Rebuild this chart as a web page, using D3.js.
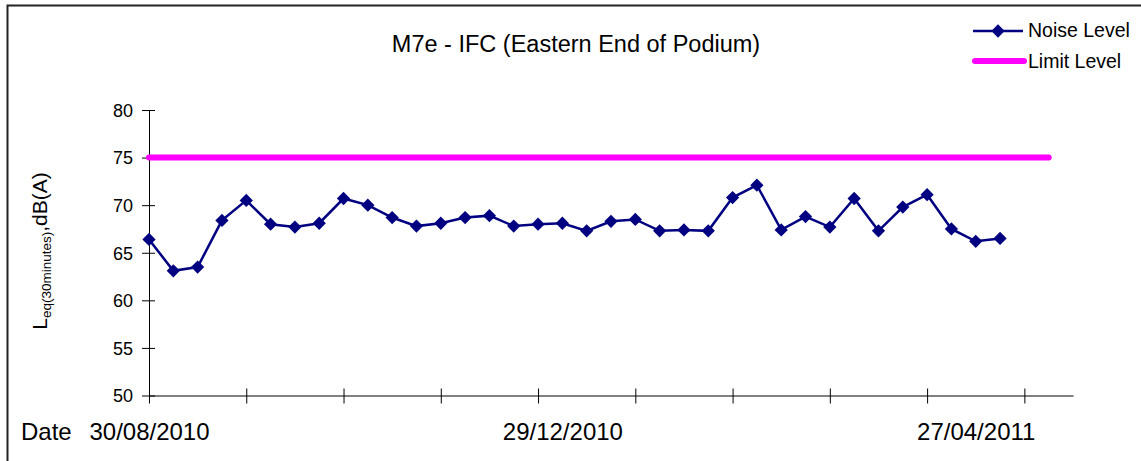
<!DOCTYPE html>
<html>
<head>
<meta charset="utf-8">
<script src="https://cdn.jsdelivr.net/npm/d3@7"></script>
<style>
  body { margin: 0; background: #fff; }
  svg { display: block; font-family: Arial, "Liberation Sans", sans-serif; }
</style>
</head>
<body>
<svg width="1141" height="461"></svg>
<script>
// data
const title = "M7e - IFC (Eastern End of Podium)";
const categoryCount = 39; // slots on the category axis
const noiseLevel = [
  66.4, 63.1, 63.5, 68.4, 70.5, 68.0, 67.7, 68.1, 70.7, 70.0,
  68.7, 67.8, 68.1, 68.7, 68.9, 67.8, 68.0, 68.1, 67.3, 68.3,
  68.5, 67.3, 67.4, 67.3, 70.8, 72.1, 67.4, 68.8, 67.7, 70.7,
  67.3, 69.8, 71.1, 67.5, 66.2, 66.5
];
const limitLevel = [
  75, 75, 75, 75, 75, 75, 75, 75, 75, 75,
  75, 75, 75, 75, 75, 75, 75, 75, 75, 75,
  75, 75, 75, 75, 75, 75, 75, 75, 75, 75,
  75, 75, 75, 75, 75, 75, 75, 75
];
const dateLabels = ["30/08/2010", "29/12/2010", "27/04/2011"];
const dateLabelSlots = [0, 17, 34];
const yTicks = [50, 55, 60, 65, 70, 75, 80];

const svg = d3.select("svg");
const navy = "#000080";
const magenta = "#FF00FF";

// outer chart frame (only left and top edges fall inside the image)
svg.append("rect")
  .attr("x", 7.5).attr("y", 5.5)
  .attr("width", 1200).attr("height", 500)
  .attr("fill", "none")
  .attr("stroke", "#222")
  .attr("stroke-width", 2);

const x = d3.scalePoint()
  .domain(d3.range(categoryCount))
  .range([149, 1073]);

const y = d3.scaleLinear().domain([50, 80]).range([395.5, 110]);

// title
svg.append("text")
  .attr("x", 576).attr("y", 52)
  .attr("text-anchor", "middle")
  .attr("font-size", 23.5)
  .text(title);

// y axis
const yAxis = svg.append("g")
  .attr("transform", "translate(149,0)")
  .call(d3.axisLeft(y).tickValues(yTicks).tickSizeInner(7).tickSizeOuter(0).tickPadding(9));
yAxis.selectAll(".tick line").attr("x2", 6).attr("x1", -7).attr("stroke", "#000");
yAxis.selectAll("text").attr("font-size", 18).attr("fill", "#000").attr("dy", "0.35em");
yAxis.select(".domain").attr("stroke", "#000");

// x axis tick marks, every 4 slots
const xAxis = svg.append("g")
  .attr("transform", `translate(0,${y(50)})`)
  .call(d3.axisBottom(x)
    .tickValues(x.domain().filter(i => i % 4 === 0))
    .tickFormat("")
    .tickSizeOuter(0));
xAxis.selectAll(".tick line").attr("y1", -7).attr("y2", 8).attr("stroke", "#000");
xAxis.select(".domain").attr("stroke", "#000");

// x axis labels
const xLabels = svg.append("g")
  .attr("transform", `translate(0,${y(50)})`)
  .call(d3.axisBottom(x)
    .tickValues(dateLabelSlots)
    .tickFormat((d, i) => dateLabels[i])
    .tickSize(0)
    .tickPadding(36));
xLabels.select(".domain").remove();
xLabels.selectAll("text").attr("font-size", 24).attr("fill", "#000").attr("dy", "0.35em");

svg.append("text")
  .attr("x", 21).attr("y", 440)
  .attr("font-size", 24)
  .text("Date");

// y axis title
const yTitle = svg.append("text")
  .attr("transform", "translate(47,251) rotate(-90)")
  .attr("text-anchor", "middle")
  .attr("font-size", 21);
yTitle.append("tspan").text("L");
yTitle.append("tspan").attr("font-size", 13.5).attr("dy", 4).text("eq(30minutes)");
yTitle.append("tspan").attr("dy", -4).text(",dB(A)");

// limit line
const line = d3.line().x((d, i) => x(i)).y(d => y(d));
svg.append("path")
  .datum(limitLevel)
  .attr("d", line)
  .attr("fill", "none")
  .attr("stroke", magenta)
  .attr("stroke-width", 6)
  .attr("stroke-linecap", "round");

// noise line
svg.append("path")
  .datum(noiseLevel)
  .attr("d", line)
  .attr("fill", "none")
  .attr("stroke", navy)
  .attr("stroke-width", 2.5);

const diamond = d3.symbol().type(d3.symbolSquare).size(88);
svg.append("g").selectAll("path")
  .data(noiseLevel)
  .join("path")
  .attr("transform", (d, i) => `translate(${x(i)},${y(d)}) rotate(45)`)
  .attr("d", diamond)
  .attr("fill", navy);

// legend
const legend = svg.append("g");
legend.append("line")
  .attr("x1", 973).attr("x2", 1023).attr("y1", 31).attr("y2", 31)
  .attr("stroke", navy).attr("stroke-width", 2.5);
legend.append("path")
  .attr("transform", "translate(998,31) rotate(45)")
  .attr("d", diamond)
  .attr("fill", navy);
legend.append("text")
  .attr("x", 1028).attr("y", 30).attr("dy", "0.35em")
  .attr("font-size", 19.5)
  .text("Noise Level");
legend.append("line")
  .attr("x1", 975).attr("x2", 1024).attr("y1", 61).attr("y2", 61)
  .attr("stroke", magenta).attr("stroke-width", 6).attr("stroke-linecap", "round");
legend.append("text")
  .attr("x", 1028).attr("y", 61).attr("dy", "0.35em")
  .attr("font-size", 19.5)
  .text("Limit Level");
</script>
</body>
</html>
